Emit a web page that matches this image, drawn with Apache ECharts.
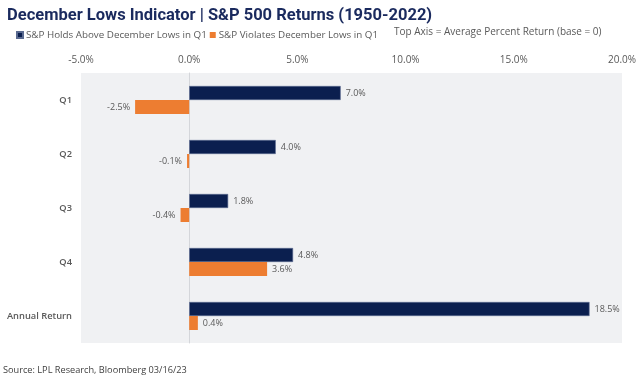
<!DOCTYPE html>
<html>
<head>
<meta charset="utf-8">
<script src="https://cdn.jsdelivr.net/npm/echarts@6/dist/echarts.min.js"></script>
<style>html,body{margin:0;padding:0;background:#fff;}#c{width:640px;height:381px;}</style>
</head>
<body>
<div id="c"></div>
<script>
const categories = ['Q1', 'Q2', 'Q3', 'Q4', 'Annual Return'];
const holdsAbove = [7.0, 4.0, 1.8, 4.8, 18.5];
const violates = [-2.5, -0.1, -0.4, 3.6, 0.4];
const seriesNames = ['S&P Holds Above December Lows in Q1', 'S&P Violates December Lows in Q1'];
const tickMin = -5, tickMax = 20, tickStep = 5;

const FONT = '"Open Sans", "Noto Sans", sans-serif';
function mk(vals) {
  return vals.map(v => ({ value: v, label: { position: v < 0 ? 'left' : 'right' } }));
}
const chart = echarts.init(document.getElementById('c'), null, { renderer: 'canvas' });
chart.setOption({
  animation: false,
  backgroundColor: '#ffffff',
  title: {
    text: 'December Lows Indicator | S&P 500 Returns (1950-2022)',
    left: 2, top: 2,
    textStyle: { color: '#1a2a5e', fontSize: 16.5, fontWeight: 'bold', fontFamily: 'Roboto, "Open Sans", sans-serif' }
  },
  legend: {
    left: 11, top: 25, itemWidth: 6, itemHeight: 6, itemGap: 3,
    icon: 'rect',
    textStyle: { color: '#595959', fontSize: 9.8, fontFamily: FONT, padding: [0, 0, 0, -2] },
    data: seriesNames
  },
  graphic: [
    { type: 'text', left: 394, top: 27.5, style: { text: 'Top Axis = Average Percent Return (base = 0)', fill: '#595959', font: '10px ' + FONT } },
    { type: 'text', left: 3, top: 366, style: { text: 'Source: LPL Research, Bloomberg 03/16/23', fill: '#404040', font: '9.2px ' + FONT } }
  ],
  grid: { left: 81, right: 18, top: 73, bottom: 38, show: true, backgroundColor: '#f0f1f3', borderWidth: 0 },
  xAxis: {
    type: 'value', position: 'top', min: tickMin, max: tickMax, interval: tickStep,
    axisLine: { show: false }, axisTick: { show: false }, splitLine: { show: false },
    axisLabel: { color: '#595959', fontSize: 10, fontFamily: FONT, margin: 8, formatter: v => v.toFixed(1) + '%' }
  },
  yAxis: {
    type: 'category', inverse: true, data: categories,
    axisLine: { show: true, onZero: true, lineStyle: { color: '#d4d6da', width: 1 } },
    axisTick: { show: false },
    axisLabel: { color: '#595959', fontSize: 9.3, fontWeight: 600, fontFamily: FONT, margin: 9 }
  },
  series: [
    {
      name: seriesNames[0], type: 'bar', barWidth: 14, barGap: '0%',
      data: mk(holdsAbove),
      itemStyle: { color: '#0b1f4f', borderColor: '#5a6a90', borderWidth: 0.6 },
      label: { show: true, distance: 5, color: '#595959', fontSize: 9, fontFamily: FONT, formatter: p => p.value.toFixed(1) + '%' }
    },
    {
      name: seriesNames[1], type: 'bar', barWidth: 14, barGap: '0%',
      data: mk(violates),
      itemStyle: { color: '#ed7d31' },
      label: { show: true, distance: 5, color: '#595959', fontSize: 9, fontFamily: FONT, formatter: p => p.value.toFixed(1) + '%' }
    }
  ]
});
</script>
</body>
</html>
